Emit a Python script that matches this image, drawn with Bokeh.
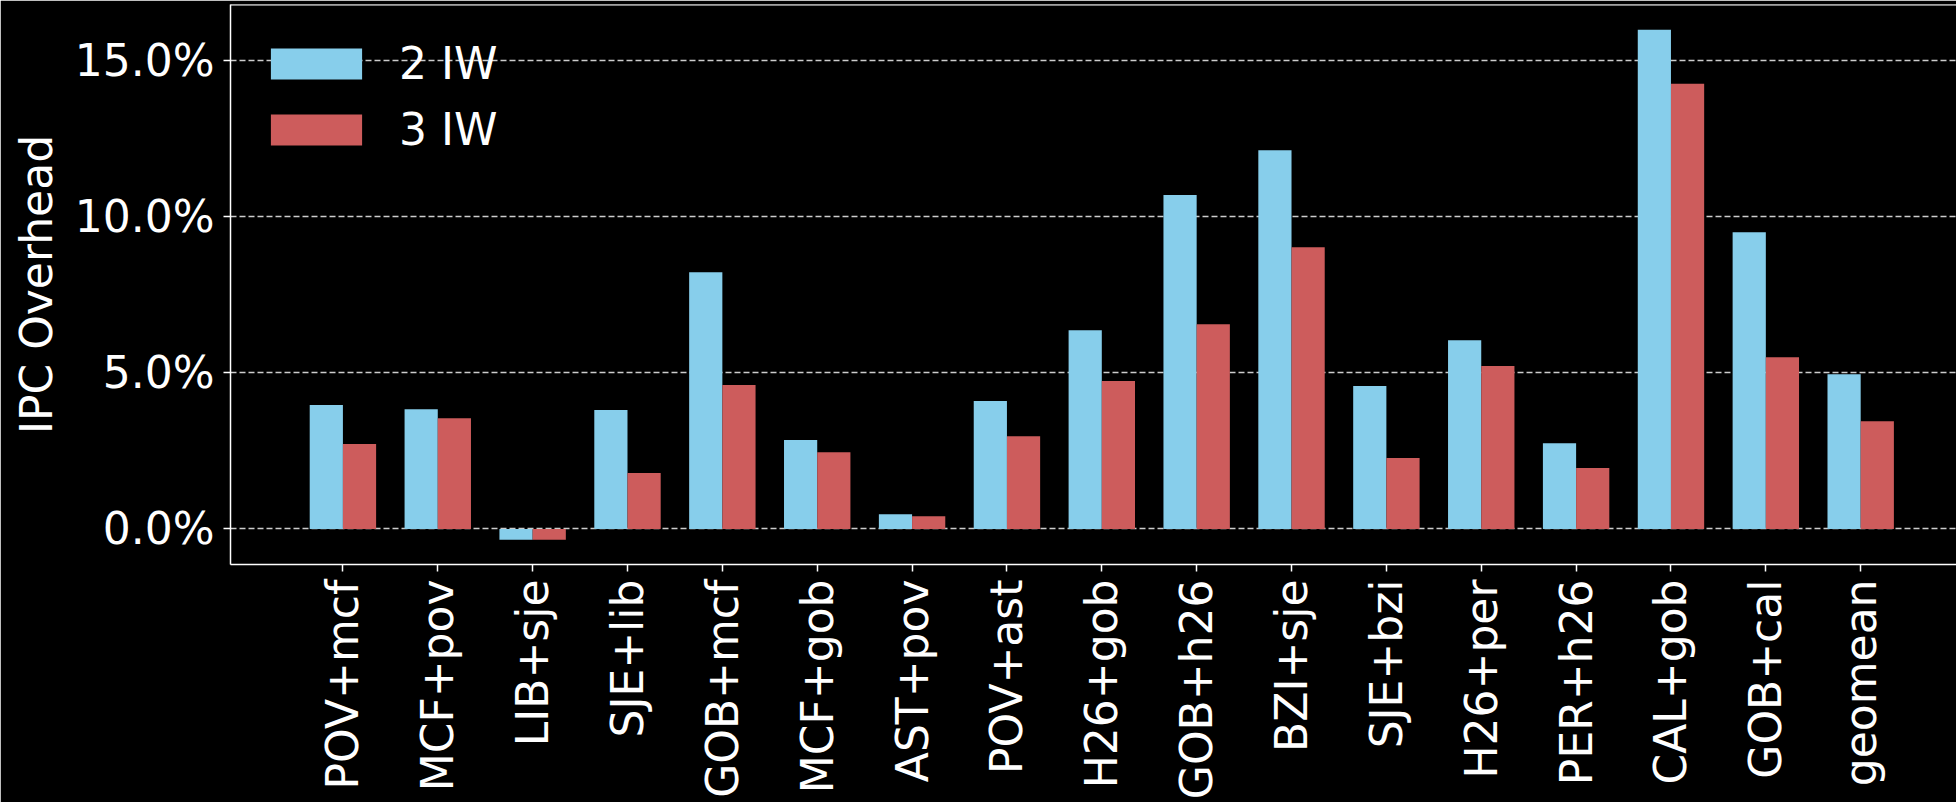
import math
from bokeh.plotting import figure
from bokeh.models import ColumnDataSource, Range1d, FixedTicker, Span, Legend, LegendItem
from bokeh.transform import dodge
from bokeh.embed import file_html
from bokeh.resources import INLINE

# ---- data ----
categories = ["POV+mcf", "MCF+pov", "LIB+sje", "SJE+lib", "GOB+mcf", "MCF+gob", "AST+pov",
              "POV+ast", "H26+gob", "GOB+h26", "BZI+sje", "SJE+bzi", "H26+per", "PER+h26",
              "CAL+gob", "GOB+cal", "geomean"]
iw2 = [3.97, 3.84, -0.35, 3.81, 8.23, 2.85, 0.47, 4.10, 6.37, 10.70, 12.14, 4.58, 6.05, 2.75, 16.00, 9.51, 4.96]
iw3 = [2.72, 3.55, -0.35, 1.79, 4.61, 2.46, 0.41, 2.97, 4.74, 6.56, 9.03, 2.27, 5.22, 1.95, 14.27, 5.50, 3.45]
series_names = ["2 IW", "3 IW"]
y_ticks = [0, 5, 10, 15]
y_tick_labels = ["0.0%", "5.0%", "10.0%", "15.0%"]

FONT = "DejaVu Sans"
FS = "44px"
BLUE = "#87CEEB"
RED = "#CD5C5C"

pos = list(range(len(categories)))
src = ColumnDataSource(dict(x=pos, iw2=iw2, iw3=iw3, zero=[0] * len(pos)))

p = figure(width=1956, height=802, output_backend="svg", toolbar_location=None,
           x_range=Range1d(-1.185, 17.01), y_range=Range1d(-1.14, 16.81),
           min_border_left=230, min_border_right=0, min_border_top=4, min_border_bottom=237)
p.background_fill_color = "black"
p.border_fill_color = "black"
p.outline_line_color = None

BW = 0.35
r1 = p.vbar(x=dodge("x", -BW / 2, range=p.x_range), top="iw2", bottom="zero", width=BW,
            source=src, fill_color=BLUE, line_color=None)
r2 = p.vbar(x=dodge("x", BW / 2, range=p.x_range), top="iw3", bottom="zero", width=BW,
            source=src, fill_color=RED, line_color=None)

# top spine
p.add_layout(Span(location=p.y_range.end, dimension="width", line_color="white", line_width=2))

# axes
for ax in (p.xaxis[0], p.yaxis[0]):
    ax.axis_line_color = "white"
    ax.axis_line_width = 1.5
    ax.major_tick_line_color = "white"
    ax.major_tick_line_width = 1.5
    ax.major_tick_out = 7
    ax.major_tick_in = 0
    ax.minor_tick_line_color = None
    ax.major_label_text_color = "white"
    ax.major_label_text_font = FONT
    ax.major_label_text_font_size = FS

p.xaxis.ticker = FixedTicker(ticks=pos)
p.xaxis.major_label_overrides = {i: c for i, c in zip(pos, categories)}
p.xaxis.major_label_orientation = math.pi / 2
p.xaxis.major_label_standoff = 8

p.yaxis.ticker = FixedTicker(ticks=y_ticks)
p.yaxis.major_label_overrides = {t: l for t, l in zip(y_ticks, y_tick_labels)}
p.yaxis.major_label_standoff = 9
p.yaxis.axis_label = "IPC Overhead"
p.yaxis.axis_label_text_color = "white"
p.yaxis.axis_label_text_font = FONT
p.yaxis.axis_label_text_font_size = FS
p.yaxis.axis_label_text_font_style = "normal"
p.yaxis.axis_label_standoff = 10

# grid
p.xgrid.grid_line_color = None
p.ygrid.ticker = FixedTicker(ticks=y_ticks)
p.ygrid.grid_line_color = "white"
p.ygrid.grid_line_alpha = 0.8
p.ygrid.grid_line_width = 1.5
p.ygrid.grid_line_dash = "6 3"

legend = Legend(items=[LegendItem(label=series_names[0], renderers=[r1]),
                       LegendItem(label=series_names[1], renderers=[r2])],
                location="top_left")
legend.background_fill_alpha = 0
legend.border_line_alpha = 0
legend.label_text_color = "white"
legend.label_text_font = FONT
legend.label_text_font_size = FS
legend.glyph_width = 114
legend.glyph_height = 39
legend.label_height = 61
legend.label_standoff = 26
legend.margin = 0
legend.padding = 29
legend.spacing = 5
p.add_layout(legend)

open("out.html", "w").write(file_html(p, INLINE))
